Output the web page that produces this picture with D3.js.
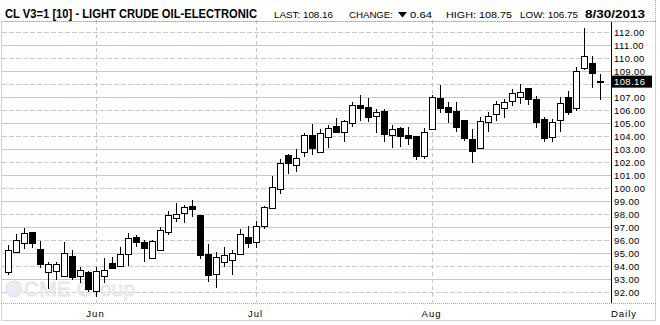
<!DOCTYPE html>
<html><head><meta charset="utf-8">
<script src="https://cdn.jsdelivr.net/npm/d3@7"></script>
<style>
body{margin:0;background:#fff}
svg{display:block}
text{font-family:"Liberation Sans",Arial,sans-serif}
</style>
</head><body>
<svg id="c" width="660" height="325"></svg>
<script>
// ---- data ----
const days = d3.range(75); // trading-day categories (mid May .. 30 Aug 2013)
const opens  = [93.54,95.03,95.72,96.57,95.26,93.54,93.62,93.23,94.74,93.2,93.54,92.08,93.23,94.19,94.0,94.88,96.19,95.8,94.57,95.21,96.62,97.65,98.03,98.59,97.9,94.9,93.36,94.31,94.44,94.88,96.19,95.8,97.05,98.42,99.88,102.49,101.74,102.72,104.05,102.77,103.87,104.75,104.26,105.0,106.36,106.18,105.52,105.9,104.05,104.57,104.05,103.98,102.46,104.49,106.88,106.18,105.9,105.21,103.72,103.08,105.03,105.64,106.11,106.67,106.95,107.65,106.8,105.26,103.88,105.21,106.95,106.11,109.18,109.57,108.2];
const highs  = [95.6,96.42,96.88,96.62,95.9,94.31,94.31,95.85,95.21,93.92,93.6,93.92,94.57,94.69,95.46,96.49,96.36,95.98,95.97,97.0,98.2,98.8,98.67,99.05,97.9,95.67,95.08,95.46,95.21,96.8,97.08,97.46,98.59,100.9,102.18,102.59,102.95,104.18,104.9,104.49,104.82,105.34,105.21,106.62,107.13,106.88,106.03,106.03,104.82,104.69,104.69,103.98,104.57,107.13,107.9,106.62,106.57,105.21,104.49,105.41,105.85,106.69,106.82,107.57,107.95,107.65,107.05,105.41,105.28,106.95,107.44,109.31,112.26,110.13,108.75];
const lows   = [93.3,95.0,95.26,95.38,93.85,92.18,92.9,93.2,92.9,92.7,92.0,91.6,92.65,93.8,93.92,93.97,95.46,94.26,94.57,95.21,96.36,97.38,97.26,97.77,94.5,92.77,92.26,93.92,93.28,94.85,95.36,95.38,96.85,98.4,99.49,101.03,101.23,102.38,102.51,102.64,103.03,104.18,103.54,104.65,105.15,105.08,104.23,103.54,103.08,103.15,103.28,102.13,102.21,104.49,105.72,105.0,104.31,103.59,101.87,103.08,104.31,105.15,105.38,106.28,106.41,106.36,104.62,103.54,103.54,104.31,105.59,105.92,109.05,107.69,106.75];
const closes = [95.21,95.98,96.49,95.77,94.11,94.11,94.13,94.95,93.15,93.67,92.18,93.62,93.67,93.85,94.9,96.1,95.85,95.38,95.92,96.75,97.9,97.98,98.54,98.34,94.82,93.28,94.64,94.82,94.95,96.42,95.77,97.08,98.49,100.08,101.88,101.92,102.26,104.05,103.03,104.18,104.57,104.31,105.13,106.36,106.11,105.46,105.8,104.1,104.49,103.98,103.85,102.46,104.26,106.95,106.15,105.85,104.69,103.85,102.85,105.15,105.54,106.41,106.57,107.26,107.34,106.8,105.08,103.8,105.08,106.49,105.85,109.0,110.13,108.8,108.16];
const monthTickIdx = [11, 31, 53];
const monthLabels = ["Jun", "Jul", "Aug"];
const yTickValues = d3.range(92, 113);
const lastValue = 108.16;
const headerTitle = "CL V3=1 [10] - LIGHT CRUDE OIL-ELECTRONIC";
const headerLast = "LAST: 108.16", headerChange = "0.64", headerHigh = "HIGH: 108.75", headerLow = "LOW: 106.75", headerDate = "8/30/2013";

// ---- layout ----
const svg = d3.select("#c");
const plotL = 2, plotR = 611, plotT = 22, plotB = 303;
const x = d3.scaleBand().domain(days).range([3.5, 603.5]);
const y = d3.scaleLinear().domain([92, 112]).range([291.7, 31.7]);
const cx = i => Math.round(x(i) + x.bandwidth() / 2) + 0.5;
const py = v => Math.round(y(v));

svg.append("rect").attr("width", 660).attr("height", 325).attr("fill", "#fff");

// horizontal grid
svg.append("g").selectAll("line").data(yTickValues).join("line")
  .attr("x1", plotL).attr("x2", plotR)
  .attr("y1", d => py(d) + 0.5).attr("y2", d => py(d) + 0.5)
  .attr("stroke", d => d % 2 === 0 ? "#d4c4d4" : "#c6cbc6")
  .attr("stroke-dasharray", d => d % 2 === 0 ? "5,2" : null);

// vertical month grid
svg.append("g").selectAll("line").data(monthTickIdx).join("line")
  .attr("x1", d => cx(d)).attr("x2", d => cx(d))
  .attr("y1", plotT - 2).attr("y2", plotB)
  .attr("stroke", "#c4c4c4").attr("stroke-dasharray", "4,3");

// watermark
const wm = svg.append("g").attr("opacity", 0.9);
wm.append("circle").attr("cx", 14).attr("cy", 289).attr("r", 8)
  .attr("fill", "#e3ecf4").attr("stroke", "#d3dde8");
wm.append("text").attr("x", 24).attr("y", 296).attr("font-size", 21)
  .attr("fill", "#eef0f3").attr("stroke", "#dde2e8").attr("stroke-width", 0.8)
  .text("CME Group");

// candles
const cg = svg.append("g").attr("shape-rendering", "crispEdges");
cg.selectAll("line").data(days).join("line")
  .attr("x1", cx).attr("x2", cx)
  .attr("y1", i => py(highs[i])).attr("y2", i => py(lows[i]))
  .attr("stroke", "#000");
cg.selectAll("rect").data(days).join("rect")
  .attr("x", i => cx(i) - 3)
  .attr("y", i => py(Math.max(opens[i], closes[i])) + 0.5)
  .attr("width", 6)
  .attr("height", i => Math.max(1, py(Math.min(opens[i], closes[i])) - py(Math.max(opens[i], closes[i]))))
  .attr("fill", i => closes[i] >= opens[i] ? "#fff" : "#000")
  .attr("stroke", "#000");

// y axis
svg.append("line").attr("x1", plotR + 0.5).attr("x2", plotR + 0.5)
  .attr("y1", plotT).attr("y2", plotB).attr("stroke", "#000");
const yAxis = svg.append("g").attr("transform", `translate(${plotR + 3},0)`)
  .call(d3.axisRight(y).tickValues(yTickValues.filter(v => v !== 108))
    .tickFormat(d3.format(".2f")).tickSize(0).tickPadding(0));
yAxis.select(".domain").remove();
yAxis.selectAll("text").attr("font-size", 9.5).attr("fill", "#000")
  .attr("letter-spacing", 0.4).attr("dy", "0.38em")
  .attr("font-family", '"Liberation Sans",Arial,sans-serif');

// last value box
svg.append("rect").attr("x", plotR + 1).attr("y", y(lastValue) - 6)
  .attr("width", 40).attr("height", 12).attr("fill", "#000");
svg.append("text").attr("x", plotR + 3).attr("y", y(lastValue) + 3.6)
  .attr("font-size", 9.5).attr("letter-spacing", 0.4).attr("fill", "#fff")
  .text(d3.format(".2f")(lastValue));

// x axis
const xAxis = svg.append("g").attr("transform", `translate(0,${plotB + 3})`)
  .call(d3.axisBottom(x).tickValues(monthTickIdx)
    .tickFormat(i => monthLabels[monthTickIdx.indexOf(i)]).tickSize(0).tickPadding(4));
xAxis.select(".domain").remove();
xAxis.selectAll("text").attr("font-size", 9.5).attr("letter-spacing", 1).attr("fill", "#000")
  .attr("font-family", '"Liberation Sans",Arial,sans-serif');
svg.append("text").attr("x", 624).attr("y", 317).attr("text-anchor", "middle")
  .attr("font-size", 9.5).attr("letter-spacing", 1).text("Daily");

// separators and borders
const dot = "#a8a0b0";
svg.append("line").attr("x1", 1).attr("x2", 656).attr("y1", 21.5).attr("y2", 21.5)
  .attr("stroke", "#b0a0c0").attr("stroke-dasharray", "1,1");
svg.append("line").attr("x1", 1).attr("x2", 656).attr("y1", plotB + 0.5).attr("y2", plotB + 0.5)
  .attr("stroke", dot).attr("stroke-dasharray", "1,1");
svg.append("rect").attr("x", 1.5).attr("y", 21.5).attr("width", 654).attr("height", 299)
  .attr("fill", "none").attr("stroke", dot).attr("stroke-dasharray", "1,1");
svg.append("line").attr("x1", 655.5).attr("x2", 655.5).attr("y1", 0).attr("y2", 22)
  .attr("stroke", dot).attr("stroke-dasharray", "1,1");

// header
const hy = 17.5;
svg.append("text").attr("x", 5).attr("y", 18).attr("font-size", 12).attr("font-weight", "bold")
  .attr("textLength", 252).attr("lengthAdjust", "spacingAndGlyphs").text(headerTitle);
const small = (t, x0, w) => svg.append("text").attr("x", x0).attr("y", hy).attr("font-size", 8.5)
  .attr("textLength", w).attr("lengthAdjust", "spacingAndGlyphs").text(t);
small(headerLast, 274, 59);
small("CHANGE:", 349, 44);
svg.append("path").attr("d", "M398,12 L407,12 L402.5,17.5 Z").attr("fill", "#000");
small(headerChange, 410, 22);
small(headerHigh, 446, 66);
small(headerLow, 520, 58);
svg.append("text").attr("x", 585).attr("y", 18).attr("font-size", 11).attr("font-weight", "bold")
  .attr("textLength", 60).attr("lengthAdjust", "spacingAndGlyphs").text(headerDate);
</script>
</body></html>
